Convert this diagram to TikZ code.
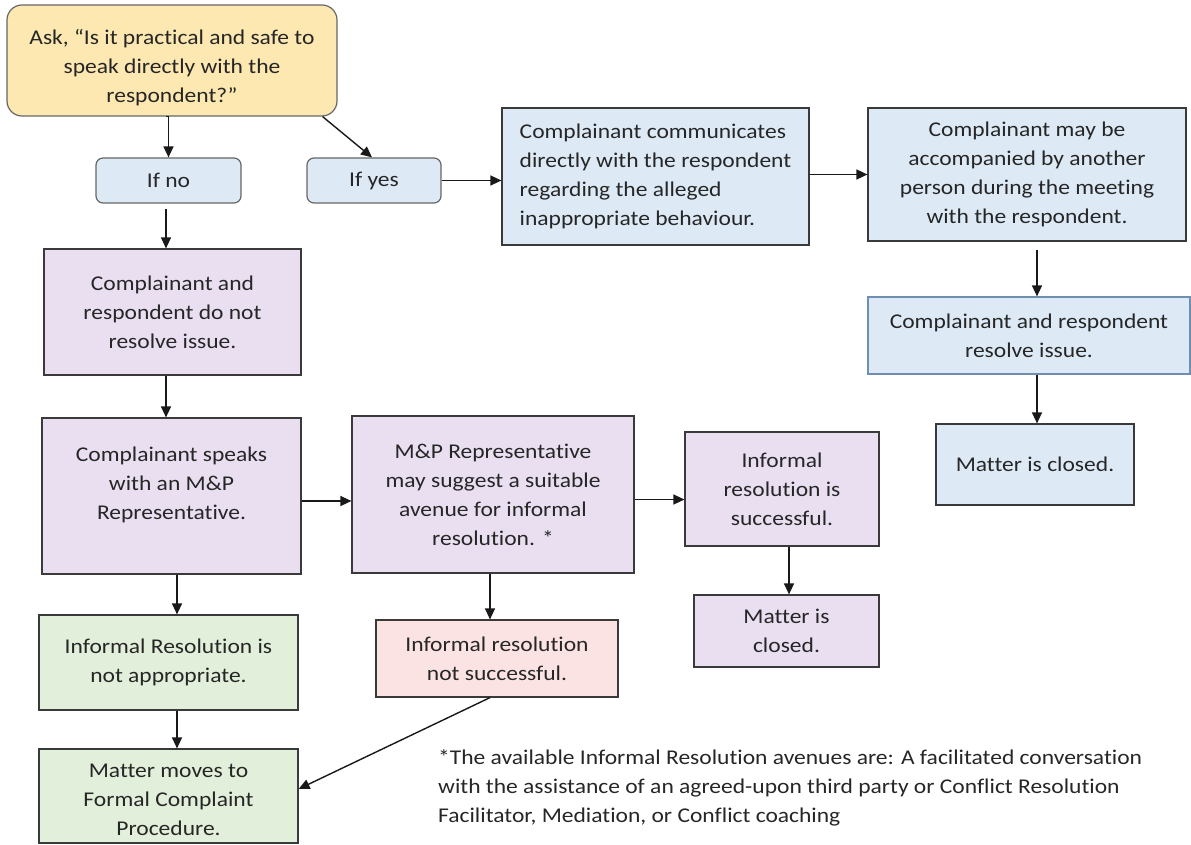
\documentclass[tikz,border=0pt]{standalone}
\usepackage{fontspec}
\setmainfont{Carlito}[FakeStretch=1.12, Ligatures=NoCommon]
\usetikzlibrary{arrows.meta}
\definecolor{yelF}{HTML}{FCE8B0}
\definecolor{bluF}{HTML}{DDEAF6}
\definecolor{purF}{HTML}{E9DFF1}
\definecolor{grnF}{HTML}{E2EFDA}
\definecolor{pnkF}{HTML}{FCE3E3}
\definecolor{edge}{HTML}{3A3A3A}
\definecolor{bluE}{HTML}{6E8FB0}
\begin{document}
\begin{tikzpicture}[x=1pt,y=-1pt,
  txt/.style={font=\fontsize{21}{29}\selectfont, text=black!85, align=center, inner sep=0pt},
  box/.style={txt, draw=edge, line width=1.2pt, rectangle},
  rbox/.style={box, rounded corners=7pt},
  arr/.style={-{Triangle[length=11pt,width=10pt]}, line width=1.4pt, draw=black!90}]
\useasboundingbox (0,0) rectangle (1191,845);
% top row
\node[rbox, fill=yelF, draw=black!60, rounded corners=15pt, minimum width=330pt, minimum height=111pt,
  label={[txt, yshift=-7pt]center:Ask, “Is it practical and safe to\\speak directly with the\\respondent?”}] (ask) at (172,60.5) {};
\node[rbox, fill=bluF, draw=black!60, minimum width=145pt, minimum height=45pt] (no) at (168.5,180.5) {If no};
\node[rbox, fill=bluF, draw=black!60, minimum width=134pt, minimum height=45pt] (yes) at (374,180.5) {If yes};
\node[box, fill=bluF, align=left, minimum width=307pt, minimum height=137pt] (comm) at (655.5,176.5)
  {Complainant communicates\\directly with the respondent\\regarding the alleged\\inappropriate behaviour.};
\node[box, fill=bluF, minimum width=318pt, minimum height=133pt] (acc) at (1027,174.5)
  {Complainant may be\\accompanied by another\\person during the meeting\\with the respondent.};
\node[box, fill=bluF, draw=bluE, minimum width=322pt, minimum height=77pt] (res) at (1029,335.5)
  {Complainant and respondent\\resolve issue.};
\node[box, fill=bluF, minimum width=198pt, minimum height=81pt] (closedA) at (1035,464.5) {Matter is closed.};
% left column
\node[box, fill=purF, minimum width=257pt, minimum height=126pt] (notres) at (172.5,312)
  {Complainant and\\respondent do not\\resolve issue.};
\node[box, fill=purF, minimum width=259pt, minimum height=156pt,
  label={[txt, yshift=11pt]center:Complainant speaks\\with an M\&P\\Representative.}] (speaks) at (171.5,496) {};
\node[box, fill=purF, minimum width=282pt, minimum height=157pt] (mp) at (493,494.5)
  {M\&P Representative\\may suggest a suitable\\avenue for informal\\resolution. *};
\node[box, fill=purF, minimum width=194pt, minimum height=114pt] (succ) at (782,489)
  {Informal\\resolution is\\successful.};
\node[box, fill=purF, minimum width=185pt, minimum height=72pt] (closedB) at (786.5,631)
  {Matter is\\closed.};
\node[box, fill=grnF, minimum width=259pt, minimum height=95pt] (inapp) at (168.5,662.5)
  {Informal Resolution is\\not appropriate.};
\node[box, fill=pnkF, minimum width=242pt, minimum height=77pt] (fail) at (497,658.5)
  {Informal resolution\\not successful.};
\node[box, fill=grnF, minimum width=259pt, minimum height=94pt,
  label={[txt, yshift=-4pt]center:Matter moves to\\Formal Complaint\\Procedure.}] (formal) at (168.5,796) {};
\node[txt, align=left, anchor=west] (note) at (438,788)
  {*The available Informal Resolution avenues are: A facilitated conversation\\with the assistance of an agreed-upon third party or Conflict Resolution\\Facilitator, Mediation, or Conflict coaching};
% connectors
\draw[arr] ([xshift=-6pt]ask.south) -- (ask.south -| no.north) -- (no.north);
\draw[arr] ([xshift=-15pt]ask.south east) -- ([xshift=-2pt]yes.north);
\draw[arr] (yes.east) -- (yes.east -| comm.west);
\draw[arr] (comm.east |- acc.west) -- (acc.west);
\draw[arr] ([xshift=10pt,yshift=-8pt]acc.south) -- ([xshift=8pt]res.north);
\draw[arr] ([xshift=8pt]res.south) -- ([xshift=2pt]closedA.north);
\draw[arr] ([xshift=-2.5pt,yshift=-5pt]no.south) -- ([xshift=-6.5pt]notres.north);
\draw[arr] ([xshift=-6.5pt]notres.south) -- ([xshift=-5.5pt]speaks.north);
\draw[arr] ([yshift=-5pt]speaks.east) -- ([yshift=-5pt]speaks.east -| mp.west);
\draw[arr] ([yshift=-5pt]mp.east) -- ([yshift=-5pt]mp.east -| succ.west);
\draw[arr] ([xshift=-3pt]mp.south) -- ([xshift=-3pt]mp.south |- fail.north);
\draw[arr] ([xshift=7pt]succ.south) -- ([xshift=7pt]succ.south |- closedB.north);
\draw[arr] ([xshift=5.5pt]speaks.south) -- ([xshift=8.5pt]inapp.north);
\draw[arr] ([xshift=8.5pt]inapp.south) -- ([xshift=8.5pt]formal.north);
\draw[arr] ([xshift=-7pt]fail.south) -- ([yshift=7pt]formal.east);
\end{tikzpicture}
\end{document}
